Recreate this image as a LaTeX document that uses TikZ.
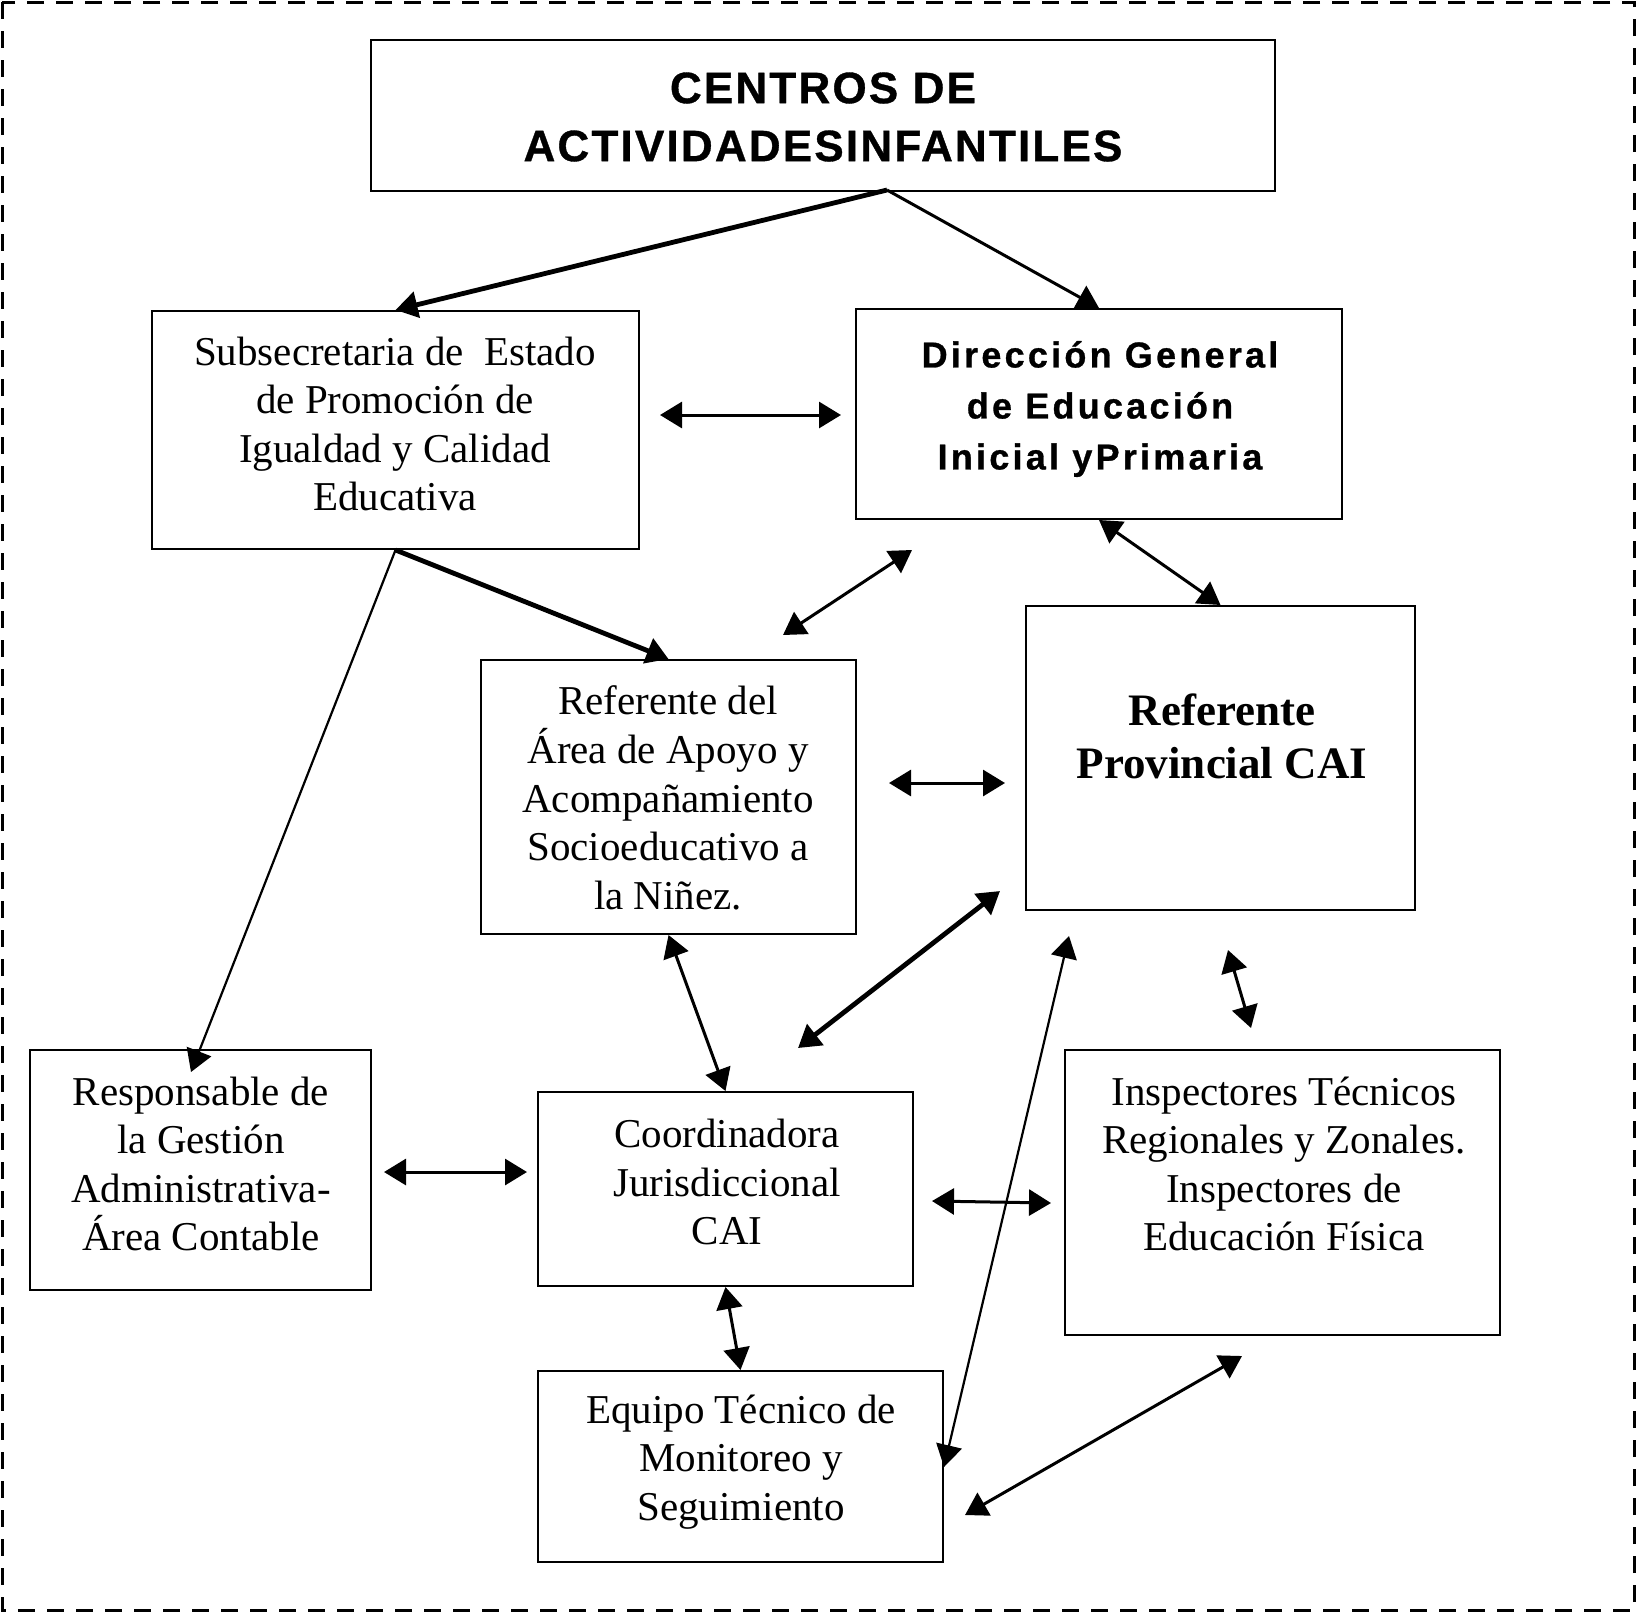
\documentclass[tikz,border=0pt]{standalone}
\usepackage{fontspec}
\setmainfont{Liberation Serif}
\newfontfamily\hsanstitle[LetterSpace=5,BoldFeatures={FakeBold=0.8}]{Liberation Sans}
\newfontfamily\hsansdir[LetterSpace=9,BoldFeatures={FakeBold=0.8}]{Liberation Sans}
\usetikzlibrary{arrows.meta}
\tikzset{
  hd/.tip={Triangle[length=11pt,width=13pt]},
  box/.style={draw,line width=1pt,inner sep=0pt},
  txt/.style={align=center,inner sep=0pt,font=\fontsize{20.5}{24.3}\selectfont},
  conn/.style={line width=1.5pt},
  thickconn/.style={line width=2.4pt},
  thinconn/.style={line width=1.1pt},
}
\begin{document}
\begin{tikzpicture}[x=0.5pt,y=-0.5pt]
\useasboundingbox (0,0) rectangle (1636,1612);
\draw[line width=1.5pt,dash pattern=on 8.5pt off 6pt] (2,2) rectangle (1634,1610);

% boxes
\node[box,minimum width=452pt,minimum height=75.5pt] (title) at (823,115.5) {};
\node[box,minimum width=243.5pt,minimum height=119pt] (subsec) at (395.5,430) {};
\node[box,minimum width=243pt,minimum height=105pt] (dir) at (1099,414) {};
\node[box,minimum width=187.5pt,minimum height=137pt] (refarea) at (668.5,797) {};
\node[box,minimum width=194.5pt,minimum height=152pt] (refprov) at (1220.5,758) {};
\node[box,minimum width=170.5pt,minimum height=120pt] (resp) at (200.5,1170) {};
\node[box,minimum width=187.5pt,minimum height=97pt] (coord) at (725.5,1189) {};
\node[box,minimum width=217.5pt,minimum height=142.5pt] (insp) at (1282.5,1192.5) {};
\node[box,minimum width=202.5pt,minimum height=95.5pt] (equipo) at (740.5,1466.5) {};

% texts
\node[txt,font=\hsanstitle\bfseries\fontsize{22}{29}\selectfont] (ttitle) at (823,117) {CENTROS DE\\ACTIVIDADESINFANTILES};
\node[txt] (tsubsec) at (395,424) {Subsecretaria de\ \ Estado\\de Promoción de\\Igualdad y Calidad\\Educativa};
\node[txt,font=\hsansdir\bfseries\fontsize{18}{25.5}\selectfont] (tdir) at (1100,409) {Dirección General\\de Educación\\Inicial yPrimaria};
\node[txt] (trefarea) at (668,798) {Referente del\\Área de Apoyo y\\Acompañamiento\\Socioeducativo a\\la Niñez.};
\node[txt,font=\bfseries\fontsize{22.5}{26.5}\selectfont] (trefprov) at (1222,736) {Referente\\Provincial CAI};
\node[txt] (tresp) at (201,1164) {Responsable de\\la Gestión\\Administrativa-\\Área Contable};
\node[txt] (tcoord) at (727,1182) {Coordinadora\\Jurisdiccional\\CAI};
\node[txt] (tinsp) at (1284,1164) {Inspectores Técnicos\\Regionales y Zonales.\\Inspectores de\\Educación Física};
\node[txt] (tequipo) at (741,1462) {Equipo Técnico de\\Monitoreo y\\Seguimiento};

% free connector ends
\coordinate (ts) at (887,190);
\coordinate (respin) at (191,1072);
\coordinate (h1a) at (660,415);   \coordinate (h1b) at (841,415);
\coordinate (d1a) at (783,635);   \coordinate (d1b) at (912,550);
\coordinate (h2a) at (889,783);   \coordinate (h2b) at (1005,783);
\coordinate (d2a) at (1000,891);  \coordinate (d2b) at (798,1048);
\coordinate (v1a) at (1228,950);  \coordinate (v1b) at (1251,1028);
\coordinate (h3a) at (384,1172);  \coordinate (h3b) at (527,1172);
\coordinate (h4a) at (932,1201);  \coordinate (h4b) at (1051,1203);
\coordinate (l1a) at (1069,936);  \coordinate (l1b) at (944,1467);
\coordinate (d3a) at (1242,1356); \coordinate (d3b) at (965,1515);

% connectors
\draw[thickconn,-hd] (ts) -- (subsec.north);
\draw[conn,-hd] (ts) -- (dir.north);
\draw[conn,hd-hd] (h1a) -- (h1b);
\draw[conn,hd-hd] (d1a) -- (d1b);
\draw[conn,hd-hd] (dir.south) -- (refprov.north);
\draw[thickconn,-hd] (subsec.south) -- (refarea.north);
\draw[thinconn,-hd] (subsec.south) -- (respin);
\draw[conn,hd-hd] (h2a) -- (h2b);
\draw[conn,hd-hd] (refarea.south) -- (coord.north);
\draw[thickconn,hd-hd] (d2a) -- (d2b);
\draw[conn,hd-hd] (v1a) -- (v1b);
\draw[conn,hd-hd] (h3a) -- (h3b);
\draw[conn,hd-hd] (h4a) -- (h4b);
\draw[conn,hd-hd] (coord.south) -- (equipo.north);
\draw[thinconn,hd-hd] (l1a) -- (l1b);
\draw[conn,hd-hd] (d3a) -- (d3b);
\end{tikzpicture}
\end{document}
